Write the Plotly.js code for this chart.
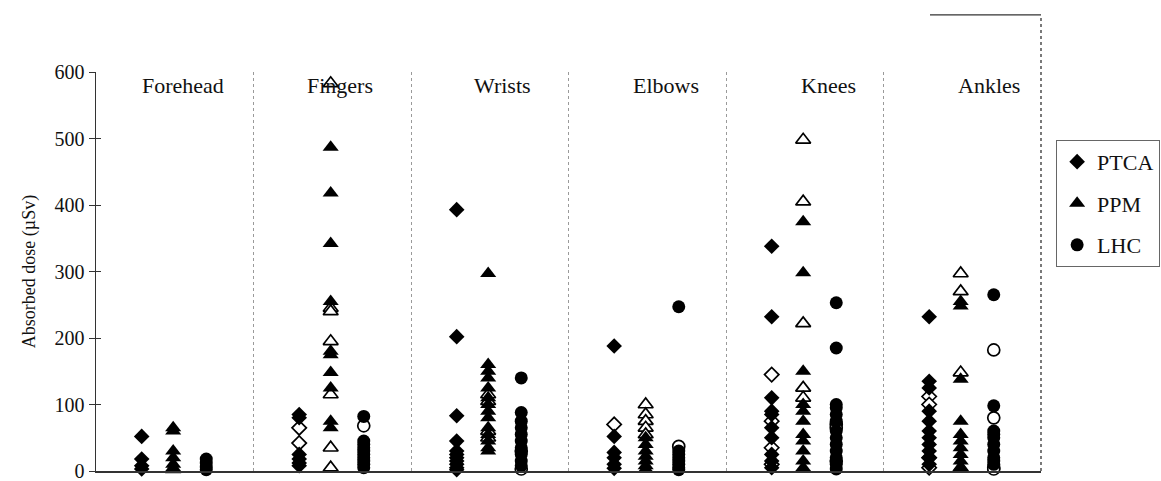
<!DOCTYPE html>
<html><head><meta charset="utf-8">
<script src="https://cdn.plot.ly/plotly-3.0.1.min.js"></script>
<style>html,body{margin:0;padding:0;background:#fff}#chart{width:1161px;height:481px}</style>
</head><body><div id="chart"></div>
<script>
const groups = ['Forehead', 'Fingers', 'Wrists', 'Elbows', 'Knees', 'Ankles'];
const seriesNames = ['PTCA', 'PPM', 'LHC'];
const yTicks = [0, 100, 200, 300, 400, 500, 600];

// Filled markers (per group)
const ptcaFilled = [
  [52, 18, 8, 3],
  [85, 80, 25, 18, 12, 8],
  [393, 202, 83, 45, 30, 25, 20, 15, 10, 5, 2],
  [188, 52, 28, 20, 10, 4],
  [338, 232, 110, 90, 85, 65, 50, 25, 15, 5],
  [232, 135, 125, 90, 75, 60, 50, 40, 30, 20, 10]
];
const ptcaOpen = [
  [],
  [65, 42],
  [],
  [70],
  [145, 75, 35, 10],
  [112, 100, 20, 5]
];
const ppmFilled = [
  [65, 60, 30, 20, 10, 5, 2],
  [487, 418, 342, 255, 180, 175, 148, 125, 75, 65],
  [297, 160, 150, 140, 125, 110, 100, 90, 80, 65, 55, 45, 35, 30],
  [50, 40, 30, 22, 15, 8, 3],
  [375, 298, 150, 100, 90, 75, 55, 45, 30, 15, 5],
  [255, 248, 138, 75, 55, 45, 35, 25, 15, 5]
];
const ppmOpen = [
  [],
  [583, 245, 240, 195, 115, 35, 5],
  [115, 105, 60, 50],
  [100, 85, 75, 65, 55],
  [498, 405, 222, 125, 110],
  [297, 270, 148, 5]
];
const lhcFilled = [
  [18, 12, 6, 2],
  [82, 45, 40, 35, 30, 25, 20, 15, 10, 5],
  [140, 88, 75, 65, 55, 45, 35, 25, 15, 8],
  [247, 30, 25, 20, 15, 10, 5, 2],
  [253, 185, 100, 95, 85, 75, 60, 50, 40, 30, 20, 10, 3],
  [265, 98, 60, 55, 50, 40, 30, 20, 15, 10]
];
const lhcOpen = [
  [],
  [68],
  [30, 3],
  [37],
  [70, 65, 15],
  [182, 80, 5, 3]
];

const offsets = [0.29, 0.49, 0.70];
const labelOffsets = [0.55, 0.55, 0.58, 0.62, 0.65, 0.67];
const symbols = ['diamond', 'triangle-up', 'circle'];
const sizes = [12, 14, 13];
const serif = 'Liberation Serif, Times New Roman, serif';

function flatten(arr, off) {
  const xs = [], ys = [];
  arr.forEach((vals, g) => vals.forEach(v => { xs.push(g + off); ys.push(v); }));
  return {xs, ys};
}

const filledSets = [ptcaFilled, ppmFilled, lhcFilled];
const openSets = [ptcaOpen, ppmOpen, lhcOpen];
const traces = [];
seriesNames.forEach((name, i) => {
  const o = flatten(openSets[i], offsets[i]);
  traces.push({
    type: 'scatter', mode: 'markers', x: o.xs, y: o.ys, name: name,
    legendgroup: name, showlegend: false, cliponaxis: false,
    marker: {symbol: symbols[i], size: sizes[i] - 1, color: '#fff', line: {color: '#000', width: 1.7}}
  });
  const f = flatten(filledSets[i], offsets[i]);
  traces.push({
    type: 'scatter', mode: 'markers', x: f.xs, y: f.ys, name: name,
    legendgroup: name, cliponaxis: false,
    marker: {symbol: symbols[i], size: sizes[i], color: '#000', line: {width: 0}}
  });
});

const annotations = groups.map((g, i) => ({
  x: i + labelOffsets[i], y: 580, xref: 'x', yref: 'y', text: g, showarrow: false,
  xanchor: 'center', yanchor: 'middle',
  font: {family: serif, size: 22, color: '#111'}
}));

const layout = {
  width: 1161, height: 481,
  margin: {l: 96, r: 120, t: 72, b: 10, autoexpand: false},
  paper_bgcolor: '#fff', plot_bgcolor: '#fff',
  font: {family: serif, color: '#111'},
  showlegend: true,
  legend: {
    x: 1.016, y: 0.83, xanchor: 'left', yanchor: 'top',
    bordercolor: '#666', borderwidth: 1, bgcolor: 'rgba(0,0,0,0)',
    font: {size: 22, family: serif, color: '#111'},
    tracegroupgap: 10, itemwidth: 30
  },
  xaxis: {
    range: [0, 6], tickvals: [1, 2, 3, 4, 5], showticklabels: false,
    showgrid: true, gridcolor: '#9a9a9a', griddash: 'dot', gridwidth: 1,
    zeroline: false, showline: true, linecolor: '#333', linewidth: 1.5, ticks: '',
    fixedrange: true
  },
  yaxis: {
    range: [0, 600], tickvals: yTicks, ticktext: yTicks.map(String),
    showgrid: false, zeroline: false, showline: true, linecolor: '#333', linewidth: 1.5,
    ticks: 'outside', ticklen: 6, tickcolor: '#333', ticklabeloverflow: 'allow',
    tickfont: {size: 20, family: serif, color: '#111'},
    title: {text: 'Absorbed dose (µSv)', standoff: 14,
      font: {size: 18, family: serif, color: '#111'}},
    fixedrange: true
  },
  yaxis2: {
    overlaying: 'y', matches: 'y', range: [0, 600], tickvals: yTicks,
    showticklabels: false, showgrid: false, zeroline: false, showline: false,
    ticks: 'inside', ticklen: 5, tickcolor: '#333', side: 'left', fixedrange: true
  },
  annotations: annotations,
  shapes: [
    {type: 'line', xref: 'paper', yref: 'paper', x0: 1, x1: 1, y0: 0, y1: 1.143,
      line: {color: '#333', width: 1.3, dash: 'dot'}},
    {type: 'line', xref: 'paper', yref: 'paper', x0: 0.8825, x1: 1, y0: 1.143, y1: 1.143,
      line: {color: '#333', width: 1.3}}
  ]
};

// empty trace so the inner tick marks on yaxis2 are drawn
traces.push({type: 'scatter', x: [], y: [], yaxis: 'y2', showlegend: false, hoverinfo: 'skip'});

Plotly.newPlot('chart', traces, layout, {displayModeBar: false, staticPlot: true});
</script>
</body></html>
